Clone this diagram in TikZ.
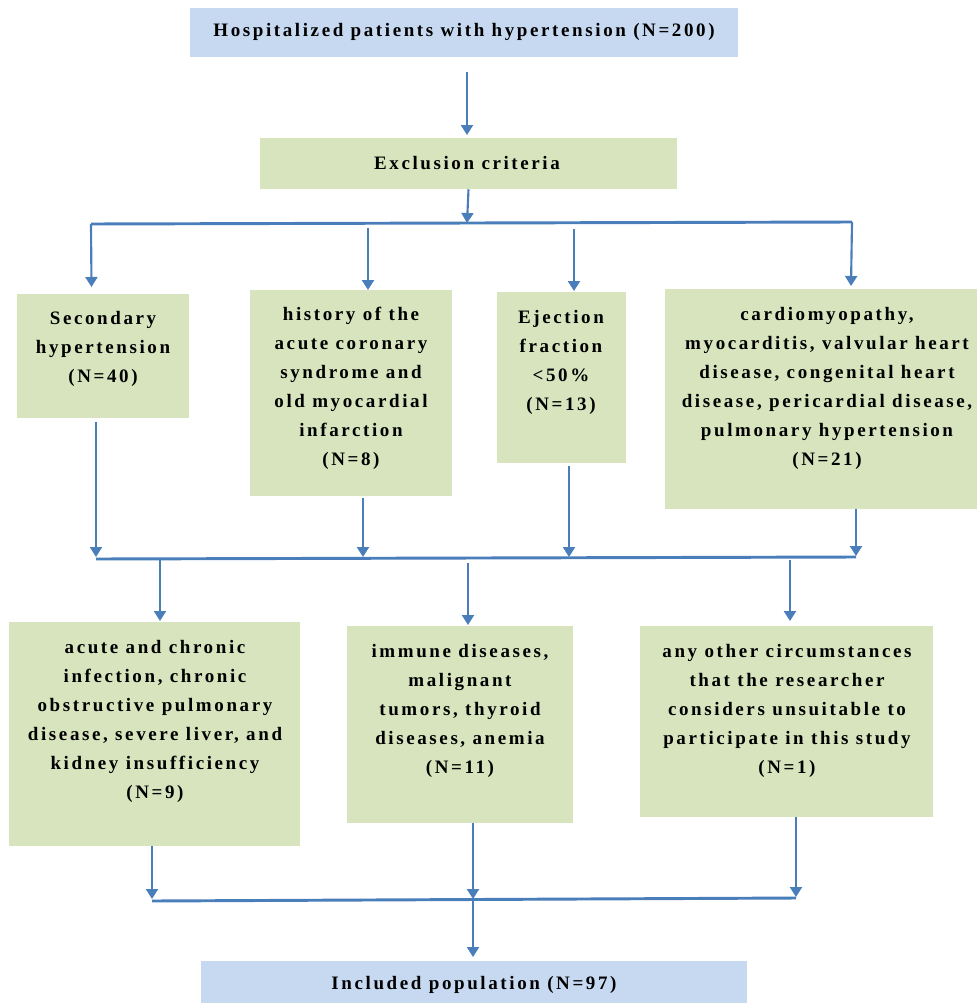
\documentclass[tikz,border=0pt]{standalone}
\usepackage{fontspec}
\setmainfont{Liberation Serif}[LetterSpace=13.7]
\usetikzlibrary{arrows.meta,fit,calc}
\definecolor{bluebox}{HTML}{C6D9F1}
\definecolor{greenbox}{HTML}{D7E4BD}
\definecolor{linec}{HTML}{4A7EBB}
\begin{document}
\begin{tikzpicture}[x=0.75pt,y=-0.75pt,
  bbox/.style={fill=bluebox,draw=none,inner sep=0pt},
  gbox/.style={fill=greenbox,draw=none,inner sep=0pt},
  txt/.style={font=\fontsize{14.25pt}{21.75pt}\selectfont\bfseries,align=center,inner sep=0pt,text=black},
  conn/.style={draw=linec,line width=1.6pt},
  arr/.style={conn,-{Triangle[width=9pt,length=7.5pt]}},
  bus/.style={draw=linec,line width=2.2pt}]
\useasboundingbox (0,0) rectangle (976,1003);
% boxes
\node[bbox,fit={(190,8) (738,57)}] (top) {};
\node[txt] (toptxt) at (464,32) {Hospitalized patients with hypertension (N=200)};
\node[gbox,fit={(260,138) (677,189)}] (excl) {};
\node[txt] (excltxt) at (467,163) {Exclusion criteria};
\node[gbox,fit={(17,294) (189,418)}] (b1) {};
\node[gbox,fit={(250,290) (452,496)}] (b2) {};
\node[gbox,fit={(497,292) (626,463)}] (b3) {};
\node[gbox,fit={(665,289) (990,509)}] (b4) {};
\node[gbox,fit={(9,622) (300,846)}] (b5) {};
\node[gbox,fit={(347,626) (573,823)}] (b6) {};
\node[gbox,fit={(640,626) (933,817)}] (b7) {};
\node[bbox,fit={(201,961) (747,1010)}] (bot) {};
\node[txt] (bottxt) at (474,985) {Included population (N=97)};
% texts
\node[txt,anchor=north] (t1) at (103,311) {Secondary\\hypertension\\(N=40)};
\node[txt,anchor=north] (t2) at (351,307) {history of the\\acute coronary\\syndrome and\\old myocardial\\infarction\\(N=8)};
\node[txt,anchor=north] (t3) at (561,310) {Ejection\\fraction\\<50\%\\(N=13)};
\node[txt,anchor=north] (t4) at (827,307) {cardiomyopathy,\\myocarditis, valvular heart\\disease, congenital heart\\disease, pericardial disease,\\pulmonary hypertension\\(N=21)};
\node[txt,anchor=north] (t5) at (155,640) {acute and chronic\\infection, chronic\\obstructive pulmonary\\disease, severe liver, and\\kidney insufficiency\\(N=9)};
\node[txt,anchor=north] (t6) at (460,644) {immune diseases,\\malignant\\tumors, thyroid\\diseases, anemia\\(N=11)};
\node[txt,anchor=north] (t7) at (787,644) {any other circumstances\\that the researcher\\considers unsuitable to\\participate in this study\\(N=1)};
% junction coordinates
\coordinate (j0) at (467,223);
\coordinate (bus1L) at (91,224);
\coordinate (bus1R) at (852,222);
\coordinate (bus2L) at (96,559);
\coordinate (bus2R) at (856,557);
\coordinate (bus3L) at (152,901);
\coordinate (bus3R) at (796,898);
% connectors
\draw[arr] (467,72) -- (467,135);
\draw[arr] (excl.south) -- (j0);
\draw[bus] (bus1L) -- (bus1R);
\draw[arr] (bus1L) -- (91.5,287);
\draw[arr] (368,228) -- (368,290);
\draw[arr] (574,229) -- (574,291);
\draw[arr] (bus1R) -- (851,286);
\draw[arr] (96,422) -- (96,557);
\draw[arr] (363,498) -- (363,557);
\draw[arr] (569,466) -- (569,557);
\draw[arr] (856,509) -- (856,556);
\draw[bus] (bus2L) -- (bus2R);
\draw[arr] (160,558) -- (160,621);
\draw[arr] (468,563) -- (468,625);
\draw[arr] (790,560) -- (790,621);
\draw[arr] (152,846) -- (152,899);
\draw[arr] (473,823) -- (473,899);
\draw[arr] (796,817) -- (796,897);
\draw[bus] (bus3L) -- (bus3R);
\draw[arr] (473,900) -- (473,957);
\end{tikzpicture}
\end{document}
